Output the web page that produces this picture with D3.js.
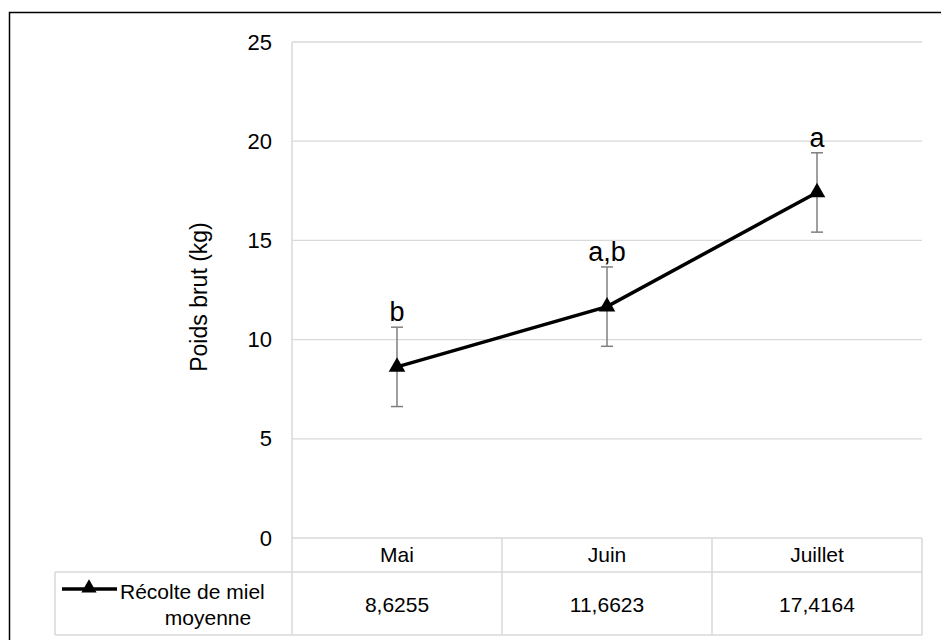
<!DOCTYPE html>
<html><head><meta charset="utf-8">
<script src="https://cdn.jsdelivr.net/npm/d3@7"></script>
<style>body{margin:0;background:#fff}svg{display:block}text{font-family:"Liberation Sans",Arial,sans-serif;fill:#000}</style>
</head><body><svg id="c" width="941" height="640"></svg>
<script>
const categories = ["Mai", "Juin", "Juillet"];
const values = [8.6255, 11.6623, 17.4164];
const errors = [2.0, 2.0, 2.0];
const letters = ["b", "a,b", "a"];
const valueLabels = ["8,6255", "11,6623", "17,4164"];
const yTicks = [0, 5, 10, 15, 20, 25];
const seriesName = ["Récolte de miel", "moyenne"];
const yLabel = "Poids brut (kg)";

const svg = d3.select("#c");
const L = 292, R = 922, T = 42, B = 538, rowH = 34, tableB = 635, legL = 55;
const x = d3.scaleBand().domain(categories).range([L, R]).padding(0);
const y = d3.scaleLinear().domain([0, 25]).range([B, T]);
const grid = "#d9d9d9";

// outer border
svg.append("rect").attr("x", 9.5).attr("y", 12.5).attr("width", 940).attr("height", 640)
  .attr("fill", "none").attr("stroke", "#000").attr("stroke-width", 1.5);

// gridlines
svg.append("g").selectAll("line").data(yTicks.filter(d => d > 0)).join("line")
  .attr("x1", L).attr("x2", R).attr("y1", d => y(d)).attr("y2", d => y(d))
  .attr("stroke", grid).attr("stroke-width", 1.3);

// y axis labels
const yAxis = d3.axisLeft(y).tickValues(yTicks).tickSize(0).tickPadding(20).tickFormat(d3.format("d"));
const ga = svg.append("g").attr("transform", `translate(${L},0)`).call(yAxis);
ga.select(".domain").remove();
ga.selectAll("text").style("font-size", "22px").style("font-family", "Liberation Sans, Arial, sans-serif").attr("fill", "#000");

// y title
svg.append("text").attr("transform", `translate(207,${(T + B) / 2 + 7}) rotate(-90)`)
  .attr("text-anchor", "middle").style("font-size", "23px").text(yLabel);

// table lines
const tl = svg.append("g").attr("stroke", grid).attr("stroke-width", 1.5);
tl.append("line").attr("x1", L).attr("x2", R).attr("y1", B).attr("y2", B);
tl.append("line").attr("x1", legL).attr("x2", R).attr("y1", B + rowH).attr("y2", B + rowH);
tl.append("line").attr("x1", legL).attr("x2", R).attr("y1", tableB).attr("y2", tableB);
tl.append("line").attr("x1", legL).attr("x2", legL).attr("y1", B + rowH).attr("y2", tableB);
tl.append("line").attr("x1", L).attr("x2", L).attr("y1", T).attr("y2", tableB);
tl.selectAll(".v").data(categories).join("line")
  .attr("x1", d => x(d) + x.bandwidth()).attr("x2", d => x(d) + x.bandwidth())
  .attr("y1", B).attr("y2", tableB);

// table text
svg.append("g").selectAll("text").data(categories).join("text")
  .attr("x", d => x(d) + x.bandwidth() / 2).attr("y", B + rowH / 2 + 7)
  .attr("text-anchor", "middle").style("font-size", "21px").text(d => d);
svg.append("g").selectAll("text").data(valueLabels).join("text")
  .attr("x", (d, i) => x(categories[i]) + x.bandwidth() / 2).attr("y", (B + rowH + tableB) / 2 + 8)
  .attr("text-anchor", "middle").style("font-size", "21px").text(d => d);
svg.append("g").selectAll("text").data(seriesName).join("text")
  .attr("x", (d, i) => i === 0 ? 120 : 208).attr("y", (d, i) => 599 + i * 26)
  .attr("text-anchor", (d, i) => i === 0 ? "start" : "middle").style("font-size", "21px").text(d => d);
// legend symbol
svg.append("line").attr("x1", 62).attr("x2", 117).attr("y1", 589).attr("y2", 589)
  .attr("stroke", "#000").attr("stroke-width", 3.5);
svg.append("path").attr("d", d3.symbol(d3.symbolTriangle, 100)()).attr("transform", "translate(89,588)").attr("fill", "#000");

// error bars
const cx = d => x(d) + x.bandwidth() / 2;
const eb = svg.append("g").attr("stroke", "#7f7f7f").attr("stroke-width", 1.5);
categories.forEach((c, i) => {
  const lo = y(values[i] - errors[i]), hi = y(values[i] + errors[i]);
  eb.append("line").attr("x1", cx(c)).attr("x2", cx(c)).attr("y1", lo).attr("y2", hi);
  eb.append("line").attr("x1", cx(c) - 6).attr("x2", cx(c) + 6).attr("y1", lo).attr("y2", lo);
  eb.append("line").attr("x1", cx(c) - 6).attr("x2", cx(c) + 6).attr("y1", hi).attr("y2", hi);
});

// line
const line = d3.line().x((d, i) => cx(categories[i])).y(d => y(d));
svg.append("path").datum(values).attr("d", line).attr("fill", "none").attr("stroke", "#000").attr("stroke-width", 3.5);
svg.append("g").selectAll("path").data(values).join("path")
  .attr("d", d3.symbol(d3.symbolTriangle, 120)())
  .attr("transform", (d, i) => `translate(${cx(categories[i])},${y(d)})`).attr("fill", "#000");

// significance letters
svg.append("g").selectAll("text").data(letters).join("text")
  .attr("x", (d, i) => cx(categories[i])).attr("y", (d, i) => y(values[i] + errors[i]) - 6)
  .attr("text-anchor", "middle").style("font-size", "27px").text(d => d);
</script></body></html>
